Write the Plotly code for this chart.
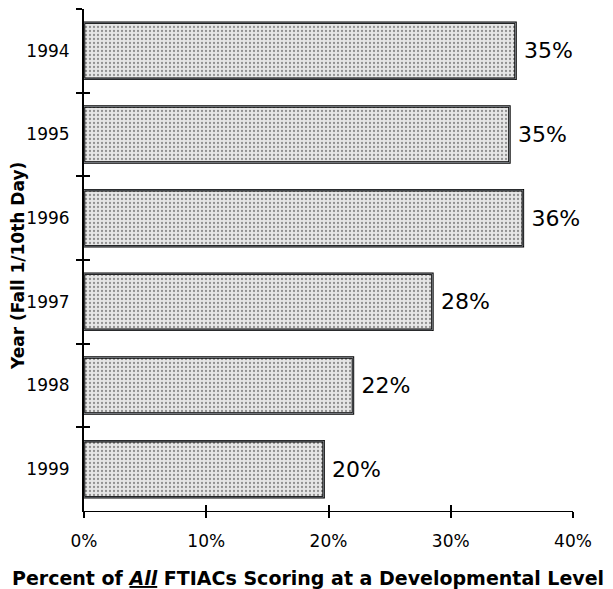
import plotly.graph_objects as go

years = ["1994", "1995", "1996", "1997", "1998", "1999"]
percents = [35.3, 34.8, 35.9, 28.5, 22.0, 19.6]
value_labels = ["35%", "35%", "36%", "28%", "22%", "20%"]
x_ticks = [0, 10, 20, 30, 40]
x_tick_labels = ["0%", "10%", "20%", "30%", "40%"]

font_family = "DejaVu Sans, Liberation Sans, Arial, sans-serif"

fig = go.Figure()
fig.add_trace(go.Bar(
    y=years, x=percents, orientation="h",
    text=value_labels, texttemplate="\u2005%{text}", textposition="outside", cliponaxis=False,
    textfont=dict(size=22, color="black", family=font_family),
    marker=dict(
        color="#e4e4e4",
        line=dict(color="black", width=2.5),
        pattern=dict(shape=".", fgcolor="#3a3a3a", bgcolor="#e6e6e6", size=4, solidity=0.25),
    ),
    showlegend=False,
))
# invisible trace for the inner-tick overlay axes
fig.add_trace(go.Bar(
    y=years, x=percents, orientation="h", xaxis="x2", yaxis="y2",
    marker=dict(color="rgba(0,0,0,0)"), hoverinfo="skip", showlegend=False,
))

fig.update_layout(
    width=605, height=581,
    margin=dict(l=76, r=40, t=1, b=78),
    paper_bgcolor="white", plot_bgcolor="white",
    bargap=0.33,
    font=dict(family=font_family, color="black"),
    xaxis=dict(
        range=[0, 40], tickvals=x_ticks, ticktext=x_tick_labels,
        ticks="outside", ticklen=6, tickwidth=1.5, tickcolor="black",
        showline=True, linecolor="black", linewidth=1,
        showgrid=False, zeroline=False, automargin=False,
        tickfont=dict(size=17), ticklabelstandoff=9,
    ),
    yaxis=dict(
        type="category", autorange="reversed", tickson="boundaries",
        ticks="outside", ticklen=6, tickwidth=1.5, tickcolor="black",
        showline=True, linecolor="black", linewidth=2,
        showgrid=False, zeroline=False, automargin=False,
        tickfont=dict(size=17), ticklabelstandoff=9,
    ),
    xaxis2=dict(
        overlaying="x", range=[0, 40], side="bottom", anchor="y2",
        tickvals=x_ticks, ticks="inside", ticklen=6, tickwidth=1.5, tickcolor="black",
        showticklabels=False, showgrid=False, zeroline=False, showline=False,
    ),
    yaxis2=dict(
        overlaying="y", side="left", anchor="x2", type="category",
        autorange="reversed", tickson="boundaries",
        ticks="inside", ticklen=6, tickwidth=1.5, tickcolor="black",
        showticklabels=False, showgrid=False, zeroline=False, showline=False,
    ),
    annotations=[
        dict(
            text="<b>Year (Fall 1/10th Day)</b>", textangle=-90,
            xref="paper", yref="paper", x=0, y=0.5, xanchor="center", yanchor="middle",
            xshift=-66, yshift=-6, showarrow=False, font=dict(size=17, color="black"),
        ),
        dict(
            text="<b>Percent of <i><u>All</u></i> FTIACs Scoring at a Developmental Level</b>",
            xref="paper", yref="paper", x=0.5, y=0, xanchor="center", yanchor="middle",
            xshift=-21, yshift=-67, showarrow=False, font=dict(size=19, color="black"),
        ),
    ],
)

fig.write_html("out.html")
